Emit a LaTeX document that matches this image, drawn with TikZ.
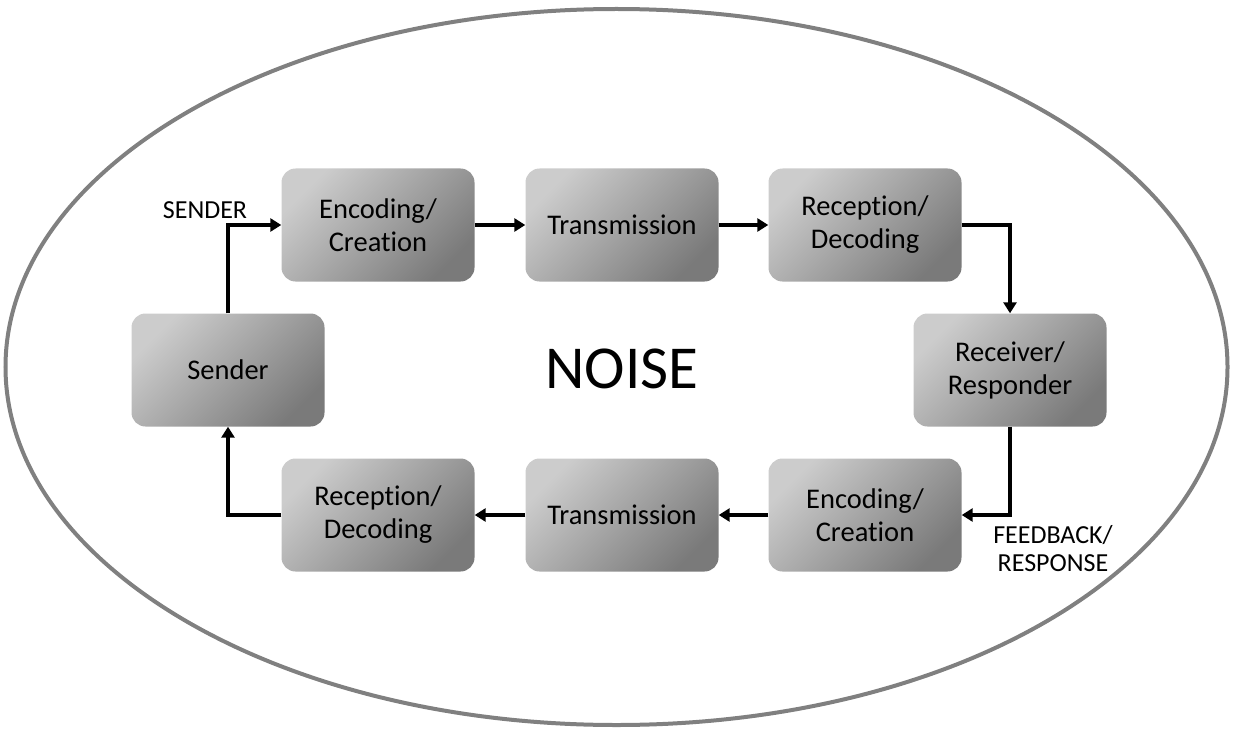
\documentclass[tikz,border=0pt]{standalone}
\usepackage{fontspec}
\setmainfont[Ligatures=NoCommon]{Carlito}
\usetikzlibrary{arrows.meta}
\tikzset{
  box/.style={rounded corners=14pt, minimum width=193pt, minimum height=113pt,
    left color=black!20, right color=black!52, shading angle=45,
    align=center, font=\fontsize{28.5}{33}\selectfont, inner sep=0pt},
  conn/.style={line width=3.6pt, -{Triangle[length=11pt,width=13pt]}},
  lbl/.style={align=center, font=\fontsize{26}{28}\selectfont}
}
\begin{document}
\begin{tikzpicture}[x=1pt,y=-1pt]
\useasboundingbox (0,0) rectangle (1233,730);
\draw[line width=4pt, black!50] (616.5,367) ellipse [x radius=611, y radius=358];
\node[box] (enc1) at (378,225) {Encoding/\\Creation};
\node[box] (tr1) at (622,225) {Transmission};
\node[box] (rec1) at (865,225) {Reception/\\Decoding};
\node[box] (snd) at (228,370) {Sender};
\node[box] (rcv) at (1010,370) {Receiver/\\Responder};
\node[box] (enc2) at (865,515) {Encoding/\\Creation};
\node[box] (tr2) at (622,515) {Transmission};
\node[box] (rec2) at (378,515) {Reception/\\Decoding};
\node[font=\fontsize{61}{64}\selectfont] (noise) at (622,369) {NOISE};
\node[lbl] (sl) at (205,210) {SENDER};
\node[lbl] (fl) at (1053,549) {FEEDBACK/\\RESPONSE};
\draw[conn] (snd.north) |- (enc1.west);
\draw[conn] (enc1) -- (tr1);
\draw[conn] (tr1) -- (rec1);
\draw[conn] (rec1.east) -| (rcv.north);
\draw[conn] (rcv.south) |- (enc2.east);
\draw[conn] (enc2) -- (tr2);
\draw[conn] (tr2) -- (rec2);
\draw[conn] (rec2.west) -| (snd.south);
\end{tikzpicture}
\end{document}
